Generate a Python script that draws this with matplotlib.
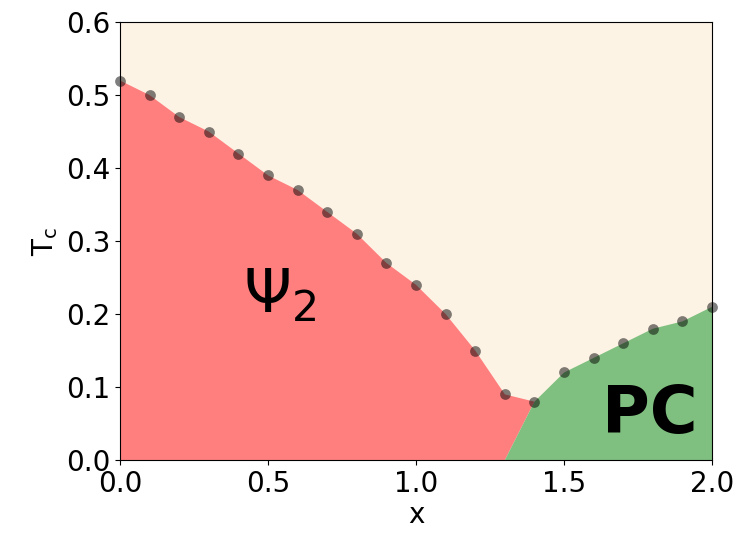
import matplotlib
matplotlib.use("Agg")
import matplotlib.pyplot as plt
import numpy as np

# critical temperature along doping x
x_vals = [0.0, 0.1, 0.2, 0.3, 0.4, 0.5, 0.6, 0.7, 0.8, 0.9, 1.0,
          1.1, 1.2, 1.3, 1.4, 1.5, 1.6, 1.7, 1.8, 1.9, 2.0]
tc_vals = [0.52, 0.50, 0.47, 0.45, 0.42, 0.39, 0.37, 0.34, 0.31, 0.27, 0.24,
           0.20, 0.15, 0.09, 0.08, 0.12, 0.14, 0.16, 0.18, 0.19, 0.21]
x_split = 1.3  # where the psi2 / PC boundary meets T=0
x_cross = 1.4

x = np.array(x_vals)
tc = np.array(tc_vals)

fig = plt.figure(figsize=(7.41, 5.4), dpi=100)
ax = fig.add_axes([0.162, 0.148, 0.799, 0.811])
ax.set_facecolor("#fdf3e5")

# psi2 phase
m1 = x <= x_cross
px = np.concatenate([[0.0], x[m1], [x_split]])
py = np.concatenate([[0.0], tc[m1], [0.0]])
ax.fill(px, py, color="#ff7f7f", lw=0)

# PC phase
m2 = x >= x_cross
gx = np.concatenate([[x_split], x[m2], [x[-1]]])
gy = np.concatenate([[0.0], tc[m2], [0.0]])
ax.fill(gx, gy, color="#7fbf7f", lw=0)

ax.scatter(x, tc, s=60, color="black", alpha=0.5, zorder=3, clip_on=False, lw=0)

ax.text(0.54, 0.225, r"$\Psi_2$", fontsize=44, ha="center", va="center")
ax.text(1.79, 0.062, "PC", fontsize=47, fontweight="bold", ha="center", va="center")

ax.set_xlim(0, 2.0)
ax.set_ylim(0, 0.6)
ax.set_xticks([0.0, 0.5, 1.0, 1.5, 2.0])
ax.set_yticks([0.0, 0.1, 0.2, 0.3, 0.4, 0.5, 0.6])
ax.tick_params(labelsize=20)
ax.set_xlabel("x", fontsize=20, labelpad=2)
ax.set_ylabel(r"T$_\mathrm{c}$", fontsize=20)

fig.savefig("out.png", dpi=100)
